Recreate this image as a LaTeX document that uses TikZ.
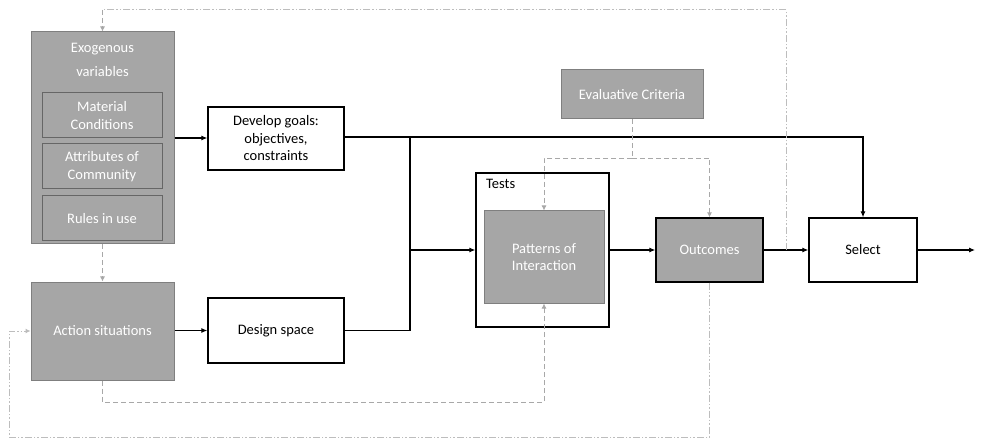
\documentclass[tikz,border=0pt]{standalone}
\usepackage{fontspec}
\setmainfont{Carlito}
\usetikzlibrary{arrows.meta}
\definecolor{boxgray}{HTML}{A6A6A6}
\definecolor{edgegray}{HTML}{7F7F7F}
\definecolor{dashgray}{HTML}{A8A8A8}
\definecolor{dotgray}{HTML}{BDBDBD}
\begin{document}
\begin{tikzpicture}[x=1pt,y=-1pt,
  font=\fontsize{14.5}{17.5}\selectfont,
  graybox/.style={draw=edgegray,line width=1pt,fill=boxgray,text=white,align=center,inner sep=0pt},
  whitebox/.style={draw=black,line width=1.3pt,fill=white,align=center,inner sep=0pt},
  flow/.style={draw=black,line width=1.1pt,-{Latex[length=6pt,width=5pt]}},
  flowline/.style={draw=black,line width=1.1pt},
  fbdash/.style={draw=dashgray,line width=0.9pt,dash pattern=on 5pt off 3pt,-{Latex[length=5pt,width=5pt]}},
  fbdot/.style={draw=dotgray,line width=1pt,dash pattern=on 7pt off 2pt on 1.5pt off 2pt on 1.5pt off 2pt},
  fbdotarrow/.style={fbdot,-{Latex[length=5pt,width=5pt]}},
]
\useasboundingbox (0,0) rectangle (981,443);
\fill[white] (0,0) rectangle (981,443);

% boxes
\node[graybox,minimum width=143pt,minimum height=212pt] (exo) at (102.5,138) {};
\node[text=white,align=center,font=\fontsize{14.5}{24}\selectfont] (exotxt) at (102.5,60) {Exogenous\\variables};
\node[graybox,draw=edgegray!80!black,minimum width=120pt,minimum height=45pt] (mat) at (102,115.5) {Material\\Conditions};
\node[graybox,draw=edgegray!80!black,minimum width=120pt,minimum height=45pt] (att) at (102,166.5) {Attributes of\\Community};
\node[graybox,draw=edgegray!80!black,minimum width=120pt,minimum height=45pt] (rul) at (102,218.5) {Rules in use};

\node[whitebox,minimum width=136pt,minimum height=63pt] (dev) at (276,138.5) {Develop goals:\\objectives,\\constraints};
\node[graybox,minimum width=143pt,minimum height=98pt] (act) at (102.5,331) {Action situations};
\node[whitebox,minimum width=136pt,minimum height=65pt] (des) at (276,330.5) {Design space};

\node[graybox,minimum width=142pt,minimum height=49pt] (eval) at (632,94.5) {Evaluative Criteria};
\node[whitebox,minimum width=133pt,minimum height=154pt] (tests) at (542.5,250) {};
\node[anchor=north west,inner sep=0pt] (testslbl) at (486,179) {Tests};
\node[graybox,minimum width=120pt,minimum height=92pt] (pat) at (544,257) {Patterns of\\Interaction};
\node[graybox,draw=black,line width=1.3pt,minimum width=107pt,minimum height=64pt] (out) at (709.5,250) {Outcomes};
\node[whitebox,minimum width=108pt,minimum height=64pt] (sel) at (863,250) {Select};

% helper coordinates
\coordinate (jtop) at (410,137);
\coordinate (jmid) at (410,250);
\coordinate (esplit) at (632,158);
\coordinate (bdash) at (544,402);
\coordinate (bdot) at (709.5,437);
\coordinate (ldot) at (9,437);
\coordinate (tdotr) at (786,250);
\coordinate (tdot) at (786,10);
\coordinate (tdotl) at (102.5,10);
\coordinate (fin) at (975,250);

% main flow
\draw[flow] (exo.east |- 0,138) -- (dev.west |- 0,138);
\draw[flow] (act.east |- des.west) -- (des.west);
\draw[flow] (dev.east |- jtop) -| (sel.north);
\draw[flowline] (des.east) -| (jtop);
\draw[flow] (jmid) -- (tests.west);
\draw[flow] (tests.east) -- (out.west);
\draw[flow] (out.east) -- (sel.west);
\draw[flow] (sel.east) -- (fin);

% dashed feedback
\draw[fbdash] (exo.south) -- (act.north);
\draw[fbdash,-] (eval.south) -- (esplit);
\draw[fbdash] (esplit) -| (pat.north);
\draw[fbdash] (esplit) -| (out.north);
\draw[fbdash] (act.south) |- (bdash) -- (pat.south);

% dash-dot feedback
\draw[fbdotarrow] (out.south) -- (bdot) -- (ldot) |- (act.west);
\draw[fbdot] (tdotr) -- (tdot) -- (tdotl);
\draw[fbdash] (tdotl) -- (exo.north);
\end{tikzpicture}
\end{document}
